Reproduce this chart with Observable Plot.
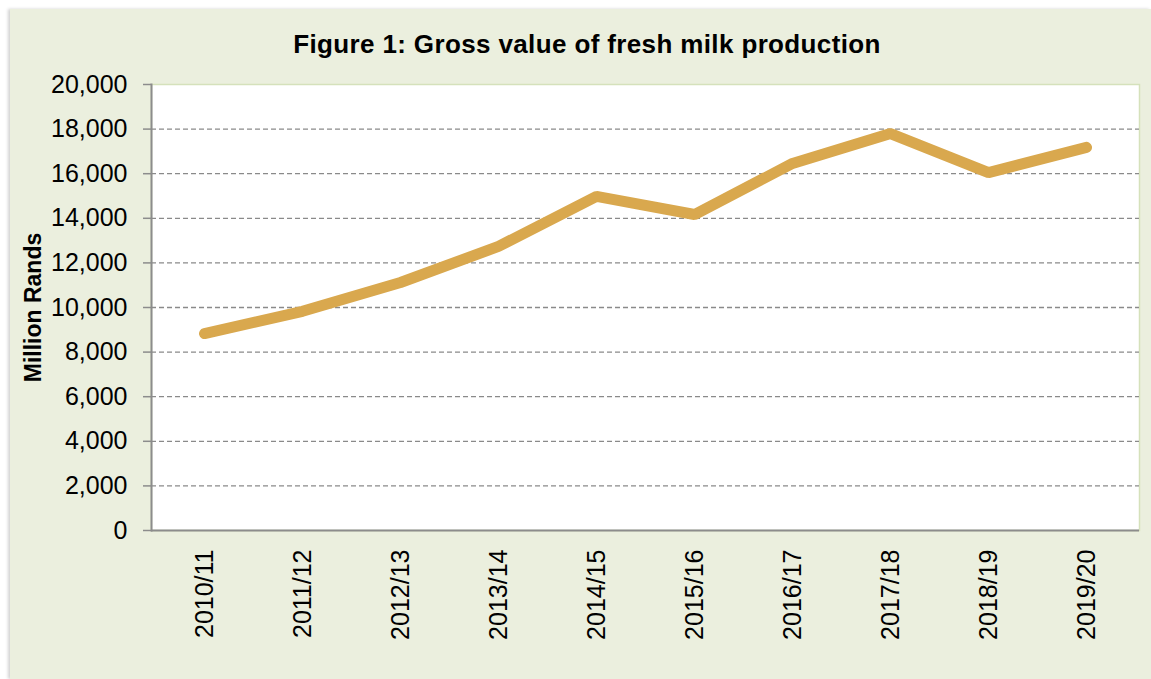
<!DOCTYPE html>
<html>
<head>
<meta charset="utf-8">
<script src="https://cdn.jsdelivr.net/npm/d3@7"></script>
<script src="https://cdn.jsdelivr.net/npm/@observablehq/plot@0.6"></script>
<style>
  html, body { margin: 0; padding: 0; background: #ffffff; width: 1151px; height: 679px; overflow: hidden; }
  #panel { position: absolute; left: 10px; top: 9px; width: 1141px; height: 670px; background: #ebefde;
           box-shadow: -2px 0 3px rgba(0,0,0,0.18); }
  #title { position: absolute; left: 10px; width: 1154px; top: 31px; text-align: center;
           font-family: "Liberation Sans", Arial, sans-serif; font-weight: bold; font-size: 26px; line-height: 26px;
           letter-spacing: 0.37px; color: #000; }
  #chart { position: absolute; left: 10px; top: 60px; }
  #chart svg { font-family: "Liberation Sans", Arial, sans-serif; background: transparent; }
  #chart g[aria-label="y-axis label"] text { font-weight: bold; font-size: 23px; }
</style>
</head>
<body>
<div id="panel"></div>
<div id="title">Figure 1: Gross value of fresh milk production</div>
<div id="chart"></div>
<script>
const categories = ["2010/11","2011/12","2012/13","2013/14","2014/15","2015/16","2016/17","2017/18","2018/19","2019/20"];
const values = [8830, 9830, 11120, 12740, 14980, 14170, 16460, 17800, 16050, 17180];
const yTicks = [0, 2000, 4000, 6000, 8000, 10000, 12000, 14000, 16000, 18000, 20000];
const gridTicks = [2000, 4000, 6000, 8000, 10000, 12000, 14000, 16000, 18000];
const yLabel = "Million Rands";

const chart = Plot.plot({
  width: 1141,
  height: 619,
  marginLeft: 141,
  marginRight: 12,
  marginTop: 24,
  marginBottom: 149,
  style: { background: "transparent", color: "#000", fontSize: "25px" },
  x: { type: "point", domain: categories, padding: 0.5 },
  y: { domain: [0, 20000] },
  marks: [
    Plot.frame({ fill: "white", stroke: "#d5e1bb", strokeWidth: 1.5 }),
    Plot.ruleY(gridTicks, { stroke: "#8a8a8a", strokeWidth: 1.3, strokeDasharray: "5,3" }),
    Plot.frame({ anchor: "left", stroke: "#8c8c8c", strokeWidth: 2 }),
    Plot.ruleY([0], { stroke: "#8c8c8c", strokeWidth: 2 }),
    Plot.axisY({ ticks: yTicks, tickFormat: d3.format(","), tickSize: 8, tickPadding: 16,
                 stroke: "#8c8c8c", strokeWidth: 1.5, fontSize: 25,
                 label: yLabel, labelAnchor: "center", labelOffset: 127, labelArrow: "none" }),
    Plot.axisX({ tickRotate: -90, tickSize: 0, tickPadding: 19, fontSize: 25, label: null }),
    Plot.lineY(values, { x: categories, stroke: "#d9a84e", strokeWidth: 11,
                         strokeLinecap: "round", strokeLinejoin: "miter" })
  ]
});
document.getElementById("chart").appendChild(chart);
</script>
</body>
</html>
